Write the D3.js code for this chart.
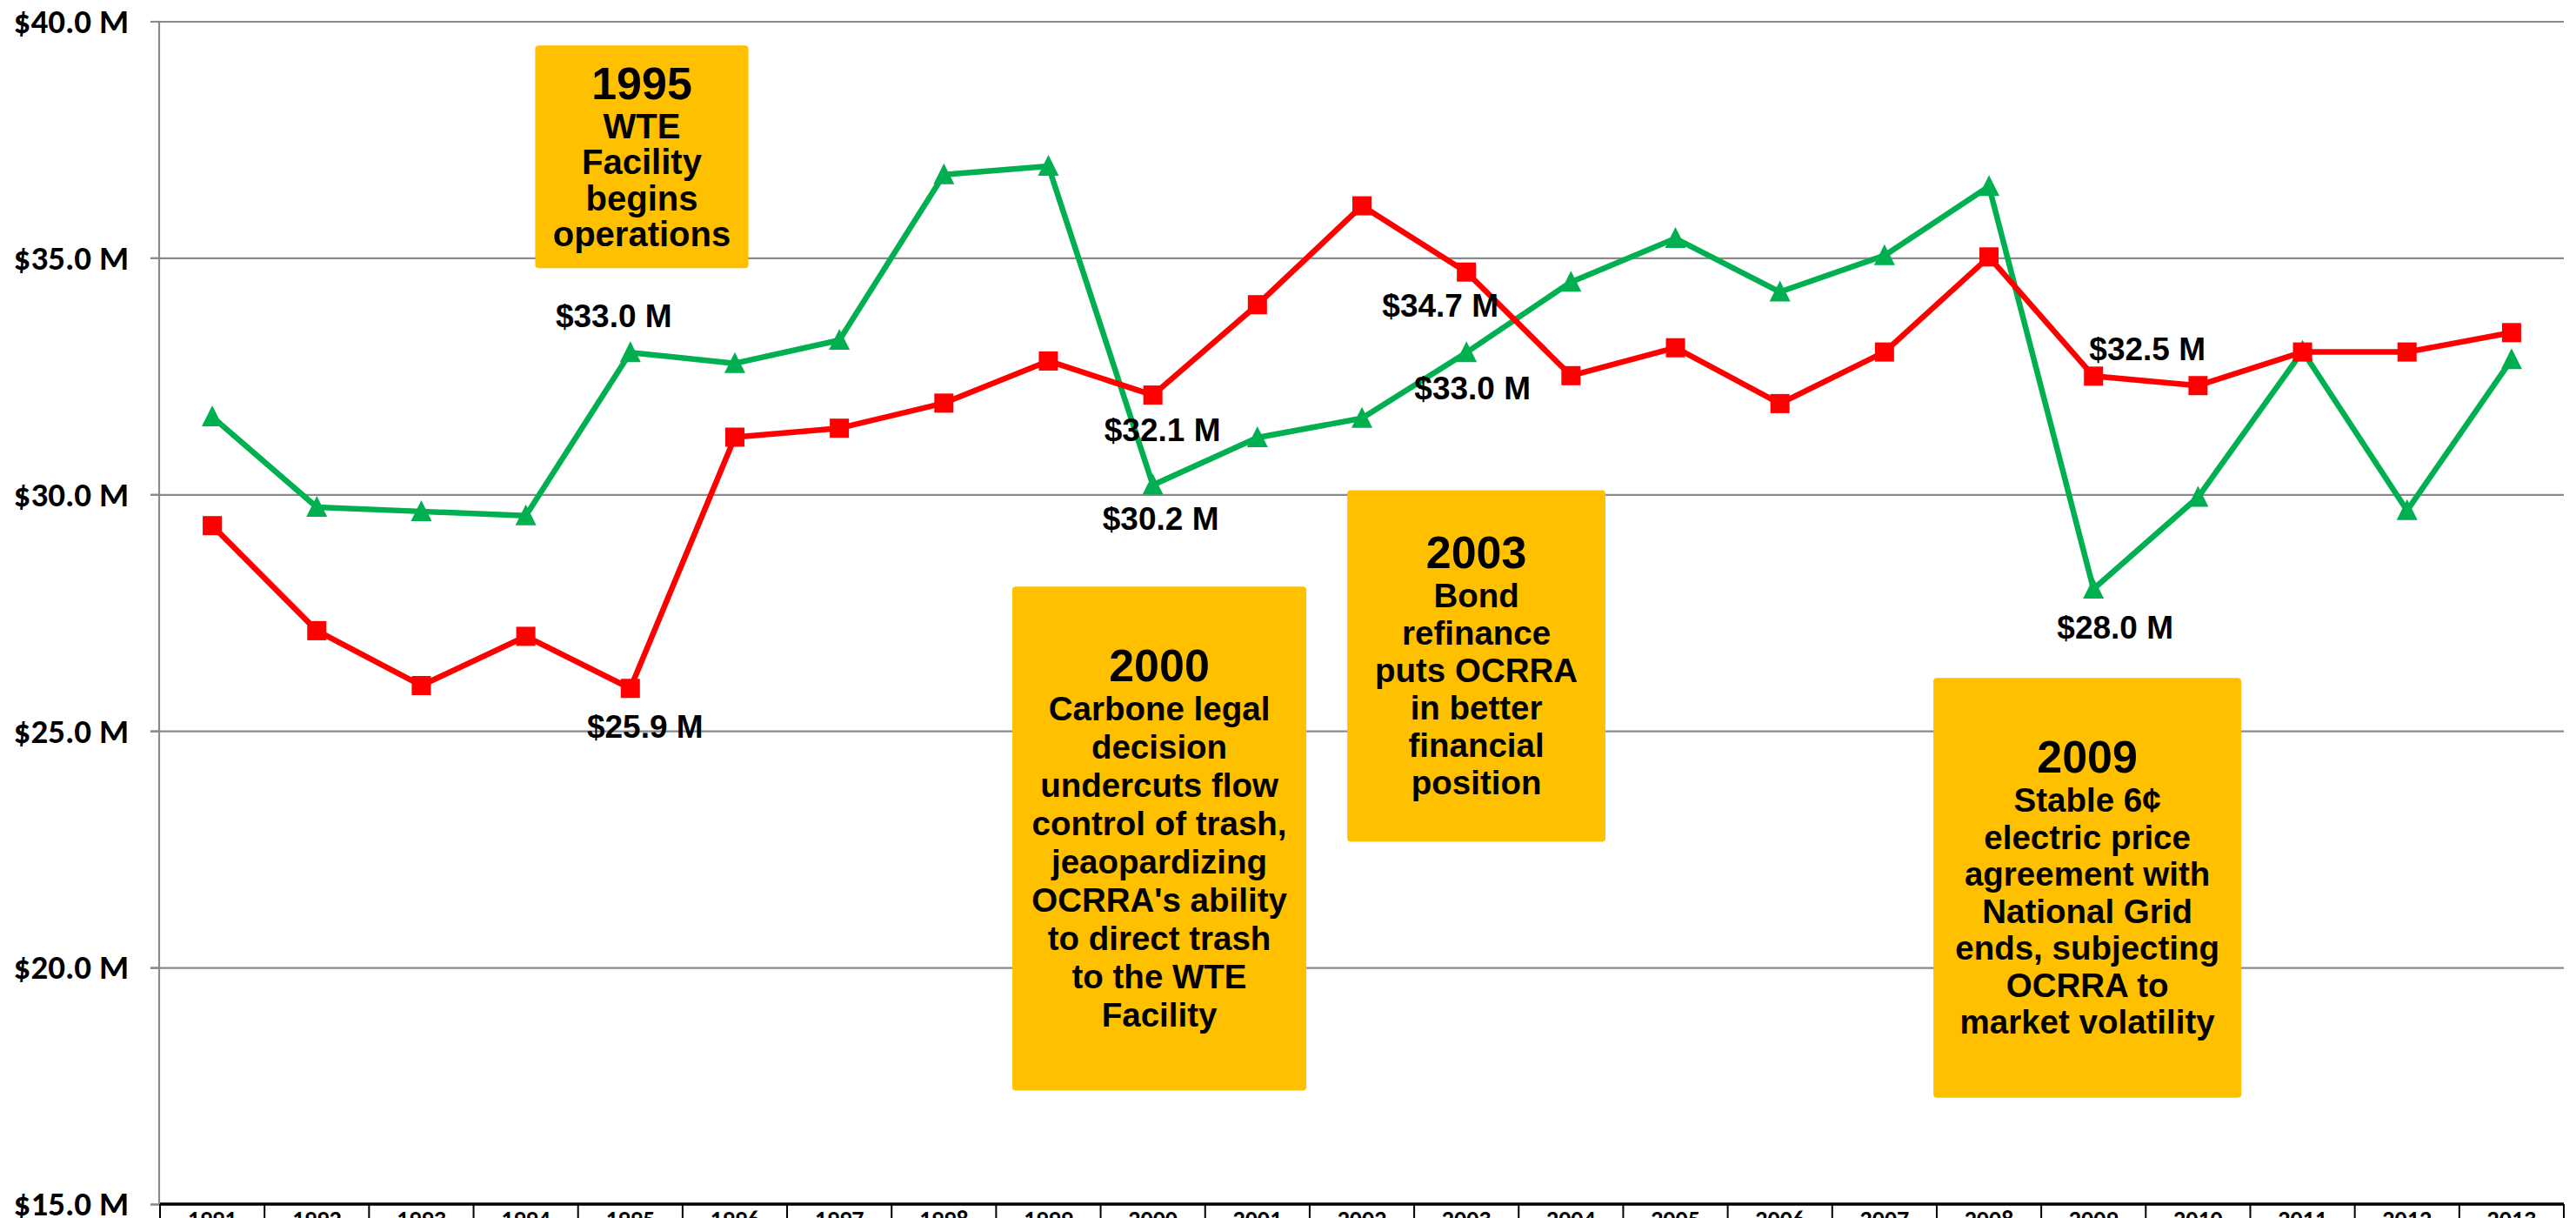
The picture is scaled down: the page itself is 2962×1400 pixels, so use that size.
<!DOCTYPE html>
<html lang="en">
<head>
    <meta charset="UTF-8">
    <title>OCRRA</title>
    <script src="https://d3js.org/d3.v7.min.js"></script>
    <style>
        body { margin: 0; background: #fff; overflow: hidden; }
        .canvas svg { display: block; }
    </style>
</head>
<body>
<div class="canvas"></div>
<script>

  // chart values ($ millions)
  const years = ['1991', '1992', '1993', '1994', '1995', '1996', '1997', '1998', '1999', '2000', '2001', '2002',
    '2003', '2004', '2005', '2006', '2007', '2008', '2009', '2010', '2011', '2012', '2013']
  const redValues = [29.34, 27.12, 25.96, 27.0, 25.9, 31.21, 31.4, 31.93, 32.82, 32.1, 34.01, 36.1,
    34.7, 32.51, 33.1, 31.92, 33.01, 35.02, 32.5, 32.3, 33.01, 33.01, 33.42]
  const greenValues = [31.64, 29.73, 29.64, 29.55, 33.0, 32.77, 33.26, 36.76, 36.94, 30.2, 31.2, 31.61,
    33.0, 34.49, 35.41, 34.28, 35.05, 36.51, 28.0, 29.94, 33.03, 29.66, 32.85]
  const yTicks = [15, 20, 25, 30, 35, 40]
  const labelYears = ['1995', '2000', '2003', '2009']

  const noteYears = ['1995', '2000', '2003', '2009']
  const noteLines = [
    ['WTE', 'Facility', 'begins', 'operations'],
    ['Carbone legal', 'decision', 'undercuts flow', 'control of trash,', 'jeaopardizing',
      "OCRRA's ability", 'to direct trash', 'to the WTE', 'Facility'],
    ['Bond', 'refinance', 'puts OCRRA', 'in better', 'financial', 'position'],
    ['Stable 6¢', 'electric price', 'agreement with', 'National Grid', 'ends, subjecting',
      'OCRRA to', 'market volatility']
  ]

  const width = 2962
  const height = 1400
  let [mt, mb, mr, ml] = [24.5, 16, 14, 184]

  const svg = d3.select('.canvas')
    .append('svg')
    .attr('width', width)
    .attr('height', height)

  const graphWidth = width - ml - mr
  const graphHeight = height - mt - mb

  const graph = svg.append('g')
    .attr('transform', `translate(${ml}, ${mt})`)

  const x = d3.scaleBand()
    .domain(years)
    .range([0, graphWidth])
    .padding(0)

  // position in "year slots", used to place the callout boxes
  const xSlot = d3.scaleLinear()
    .domain([0, years.length])
    .range([0, graphWidth])

  const y = d3.scaleLinear()
    .domain([15, 40])
    .range([graphHeight, 0])

  const money = d => `$${d.toFixed(1)} M`
  const arial = '"Liberation Sans", Arial, sans-serif'
  const calibri = 'Carlito, Calibri, Lato, sans-serif'

  // gridlines
  const gridG = graph.append('g')
    .call(d3.axisLeft(y).tickValues(yTicks).tickSize(-graphWidth).tickFormat(''))
  gridG.select('.domain').remove()
  gridG.selectAll('line')
    .attr('stroke', '#8a8a8a')
    .attr('stroke-width', 2.2)
    .attr('x1', -11)

  // y axis
  const yAxisG = graph.append('g')
    .call(d3.axisLeft(y).tickValues(yTicks).tickSize(11).tickPadding(25).tickFormat(money))
  yAxisG.select('.domain')
    .attr('stroke', '#8a8a8a')
    .attr('stroke-width', 2.2)
    .attr('d', `M-1,0V${graphHeight}`)
  yAxisG.selectAll('line').attr('stroke', '#8a8a8a').attr('stroke-width', 2.2)
  yAxisG.selectAll('text')
    .attr('fill', '#000')
    .attr('dy', '0.33em')
    .style('font-family', calibri)
    .style('font-weight', 'bold')
    .style('font-size', '39px')

  // x axis: category boxes under the baseline
  const xAxisG = graph.append('g')
    .attr('transform', `translate(0, ${graphHeight})`)
    .call(d3.axisBottom(x).tickSize(0).tickPadding(7))
  xAxisG.select('.domain').remove()
  xAxisG.selectAll('text')
    .attr('fill', '#000')
    .style('font-family', calibri)
    .style('font-weight', 'bold')
    .style('font-size', '28px')

  xAxisG.selectAll('.sep')
    .data(years.concat(['end']))
    .enter()
    .append('line')
    .attr('x1', d => d === 'end' ? graphWidth : x(d))
    .attr('x2', d => d === 'end' ? graphWidth : x(d))
    .attr('y1', 0)
    .attr('y2', 60)
    .attr('stroke', '#000')
    .attr('stroke-width', 2)

  xAxisG.append('line')
    .attr('x1', 0)
    .attr('x2', graphWidth)
    .attr('stroke', '#000')
    .attr('stroke-width', 3.5)

  // series
  const cx = d => x(d) + x.bandwidth() / 2
  const series = [
    { name: 'green', color: '#00b050', values: greenValues },
    { name: 'red', color: '#ff0000', values: redValues }
  ]

  const line = d3.line()
    .x(d => cx(d.year))
    .y(d => y(d.value))

  series.forEach(s => {
    const pts = years.map((yr, i) => ({ year: yr, value: s.values[i] }))

    graph.append('path')
      .attr('fill', 'none')
      .attr('stroke', s.color)
      .attr('stroke-width', 6.5)
      .attr('stroke-linejoin', 'round')
      .attr('d', line(pts))

    if (s.name === 'red') {
      graph.selectAll('.sq')
        .data(pts)
        .enter()
        .append('rect')
        .attr('x', d => cx(d.year) - 11)
        .attr('y', d => y(d.value) - 11)
        .attr('width', 22)
        .attr('height', 22)
        .attr('fill', s.color)
    } else {
      graph.selectAll('.tri')
        .data(pts)
        .enter()
        .append('path')
        .attr('transform', d => `translate(${cx(d.year)}, ${y(d.value)})`)
        .attr('d', 'M0,-13L12,11L-12,11Z')
        .attr('fill', s.color)
    }
  })

  // value labels on the callout years
  const labelShift = {
    red: { '1995': [17, 43], '2000': [11, 40], '2003': [-30, 38], '2009': [62, -32] },
    green: { '1995': [-19, -42], '2000': [9, 38], '2003': [7, 41], '2009': [25, 44] }
  }
  series.forEach(s => {
    graph.selectAll('.lbl-' + s.name)
      .data(labelYears)
      .enter()
      .append('text')
      .attr('x', d => cx(d) + labelShift[s.name][d][0])
      .attr('y', d => y(s.values[years.indexOf(d)]) + labelShift[s.name][d][1])
      .attr('dy', '0.36em')
      .attr('text-anchor', 'middle')
      .style('font-family', arial)
      .style('font-weight', 'bold')
      .style('font-size', '37px')
      .text(d => money(s.values[years.indexOf(d)]))
  })

  // callout boxes: slot span, value span, body size and line gap
  const noteBox = [
    { s0: 3.59, s1: 5.63, v0: 39.49, v1: 34.78, size: 40, gap: 41.5 },
    { s0: 8.155, s1: 10.968, v0: 28.05, v1: 17.4, size: 38.5, gap: 44 },
    { s0: 11.36, s1: 13.83, v0: 30.09, v1: 22.66, size: 38.5, gap: 43 },
    { s0: 16.968, s1: 19.914, v0: 26.12, v1: 17.25, size: 38.5, gap: 42.5 }
  ]

  noteYears.forEach((yr, i) => {
    const b = noteBox[i]
    const bx = xSlot(b.s0)
    const bw = xSlot(b.s1) - bx
    const by = y(b.v0)
    const bh = y(b.v1) - by
    const g = graph.append('g')

    g.append('rect')
      .attr('x', bx)
      .attr('y', by)
      .attr('width', bw)
      .attr('height', bh)
      .attr('rx', 4)
      .attr('fill', '#ffc000')

    const lines = noteLines[i]
    const total = 45 + (lines.length - 1) * b.gap
    const top = by + bh / 2 + 18 - total / 2
    const mid = bx + bw / 2

    g.append('text')
      .attr('x', mid)
      .attr('y', top)
      .attr('text-anchor', 'middle')
      .style('font-family', arial)
      .style('font-weight', 'bold')
      .style('font-size', '52px')
      .text(yr)

    g.selectAll('.ln')
      .data(lines)
      .enter()
      .append('text')
      .attr('x', mid)
      .attr('y', (d, j) => top + 45 + j * b.gap)
      .attr('text-anchor', 'middle')
      .style('font-family', arial)
      .style('font-weight', 'bold')
      .style('font-size', `${b.size}px`)
      .text(d => d)
  })

</script>
</body>
</html>
